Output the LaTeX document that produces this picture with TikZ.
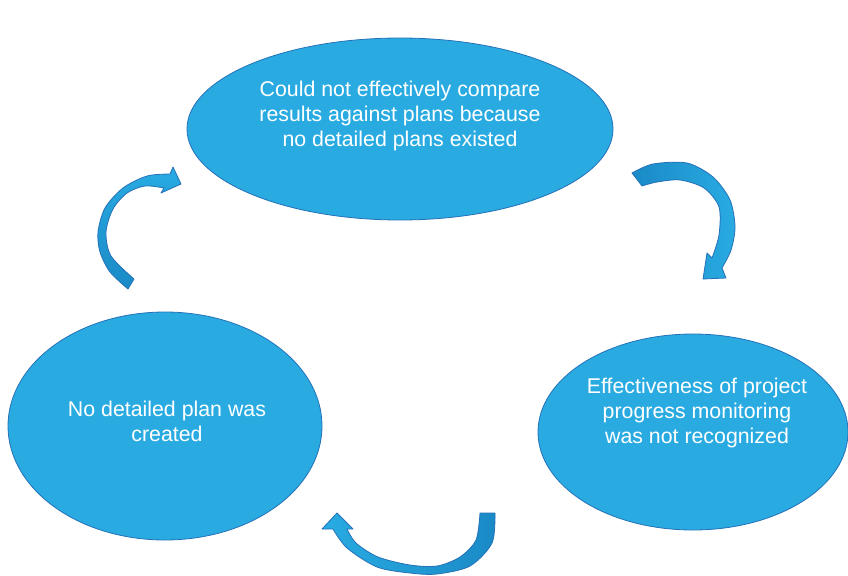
\documentclass[tikz,border=0pt]{standalone}
\usepackage{fontspec}
\setmainfont{Liberation Sans}
\usetikzlibrary{shapes.geometric}
\definecolor{cyclefill}{HTML}{29ABE2}
\definecolor{cycleline}{HTML}{2471B8}
\definecolor{cycledark}{HTML}{1A8AC6}

\begin{document}
\begin{tikzpicture}[x=0.75pt,y=-0.75pt,font=\fontsize{16}{18.75}\selectfont]
    \tikzset{blob/.style={
      ellipse, draw=cycleline, line width=0.6pt, fill=cyclefill, inner sep=0pt
    }}
    \tikzset{blobtext/.style={text=white, align=center}}
    \tikzset{curvearrow/.style={draw=cycleline, line width=0.6pt, line join=round}}
    \useasboundingbox (0,0) rectangle (848,575);

    % Ellipses
    \node[blob, minimum width=319.5pt, minimum height=136.5pt] (compare) at (400,129) {};
    \node[blob, minimum width=235.5pt, minimum height=171pt]   (noplan)  at (165,426) {};
    \node[blob, minimum width=232.5pt, minimum height=147pt]   (monitor) at (693,432) {};

    % Texts
    \node[blobtext] (comparetext) at (400,116) {Could not effectively compare\\results against plans because\\no detailed plans existed};
    \node[blobtext] (noplantext)  at (167,421) {No detailed plan was\\created};
    \node[blobtext] (monitortext) at (697,413) {Effectiveness of project\\progress monitoring\\was not recognized};

    % Curved arrows
    \path[curvearrow, top color=cyclefill, bottom color=cycledark]
      plot[smooth] coordinates {(128,289) (110,272) (100,252) (98,232) (105,208) (123,188) (147,176) (170,174)}
      -- (173,167) -- (181,184) -- (161,193)
      -- plot[smooth] coordinates {(164,188) (145,186) (127,193) (113,209) (106,232) (111,256) (134,279)}
      -- cycle;
    \path[curvearrow, left color=cycledark, right color=cyclefill]
      plot[smooth] coordinates {(632,173) (653,164) (687,163) (713,177) (730,200) (735,227) (731,250) (722,268)}
      -- (726,278) -- (703,279) -- (707,253)
      -- plot[smooth] coordinates {(712,258) (719,235) (719,207) (704,188) (680,180) (657,182) (642,186)}
      -- cycle;
    \path[curvearrow, left color=cyclefill, right color=cycledark]
      plot[smooth] coordinates {(495,513) (492,543) (470,566) (437,574) (410,573) (377,567) (347,548) (333,529)}
      -- (322,529) -- (337,513) -- (353,529)
      -- plot[smooth] coordinates {(347,529) (356,543) (378,557) (410,565) (437,566) (460,557) (476,540) (480,513)}
      -- cycle;

  \end{tikzpicture}
\end{document}
